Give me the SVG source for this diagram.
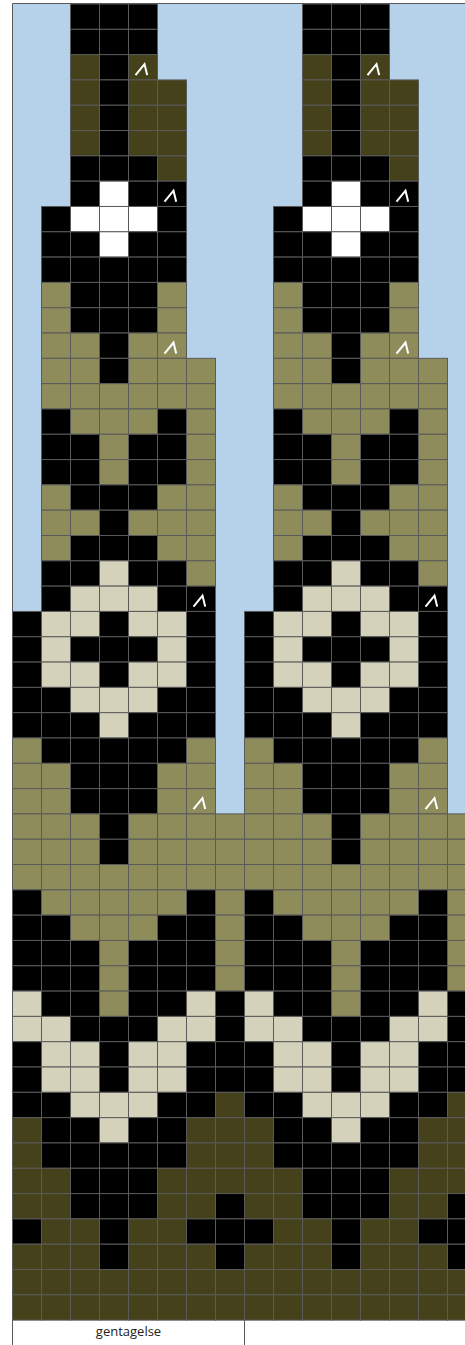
<svg xmlns="http://www.w3.org/2000/svg" xmlns:xlink="http://www.w3.org/1999/xlink" width="465" height="1345" viewBox="0 0 465 1345">
<style>
.k{fill:#000}.o{fill:#45421b}.h{fill:#8f8c5b}.l{fill:#d5d2bc}.w{fill:#fff}
.cell{stroke:#5a5a5a;stroke-width:1}
.dec{fill:none;stroke:#fff;stroke-width:2;stroke-linejoin:miter}
.frame{stroke:#5a5a5a;stroke-width:1;fill:none}
.lbl{font-family:"Open Sans","Liberation Sans",Arial,sans-serif;font-size:13px;fill:#222;text-anchor:middle}
</style>
<defs>
<rect id="c" class="cell" width="29" height="25.31"/>
<path id="d" class="dec" d="M7,20.5 L16,9.5 L18.7,20.5"/>
<g id="rep">
<g transform="translate(0,4)"><use href="#c" x="70.5" class="k"/><use href="#c" x="99.5" class="k"/><use href="#c" x="128.5" class="k"/></g>
<g transform="translate(0,29.31)"><use href="#c" x="70.5" class="k"/><use href="#c" x="99.5" class="k"/><use href="#c" x="128.5" class="k"/></g>
<g transform="translate(0,54.62)"><use href="#c" x="70.5" class="o"/><use href="#c" x="99.5" class="k"/><use href="#c" x="128.5" class="o"/><use href="#d" x="128.5"/></g>
<g transform="translate(0,79.93)"><use href="#c" x="70.5" class="o"/><use href="#c" x="99.5" class="k"/><use href="#c" x="128.5" class="o"/><use href="#c" x="157.5" class="o"/></g>
<g transform="translate(0,105.24)"><use href="#c" x="70.5" class="o"/><use href="#c" x="99.5" class="k"/><use href="#c" x="128.5" class="o"/><use href="#c" x="157.5" class="o"/></g>
<g transform="translate(0,130.55)"><use href="#c" x="70.5" class="o"/><use href="#c" x="99.5" class="k"/><use href="#c" x="128.5" class="o"/><use href="#c" x="157.5" class="o"/></g>
<g transform="translate(0,155.86)"><use href="#c" x="70.5" class="k"/><use href="#c" x="99.5" class="k"/><use href="#c" x="128.5" class="k"/><use href="#c" x="157.5" class="o"/></g>
<g transform="translate(0,181.17)"><use href="#c" x="70.5" class="k"/><use href="#c" x="99.5" class="w"/><use href="#c" x="128.5" class="k"/><use href="#c" x="157.5" class="k"/><use href="#d" x="157.5"/></g>
<g transform="translate(0,206.48)"><use href="#c" x="41.5" class="k"/><use href="#c" x="70.5" class="w"/><use href="#c" x="99.5" class="w"/><use href="#c" x="128.5" class="w"/><use href="#c" x="157.5" class="k"/></g>
<g transform="translate(0,231.79)"><use href="#c" x="41.5" class="k"/><use href="#c" x="70.5" class="k"/><use href="#c" x="99.5" class="w"/><use href="#c" x="128.5" class="k"/><use href="#c" x="157.5" class="k"/></g>
<g transform="translate(0,257.1)"><use href="#c" x="41.5" class="k"/><use href="#c" x="70.5" class="k"/><use href="#c" x="99.5" class="k"/><use href="#c" x="128.5" class="k"/><use href="#c" x="157.5" class="k"/></g>
<g transform="translate(0,282.41)"><use href="#c" x="41.5" class="h"/><use href="#c" x="70.5" class="k"/><use href="#c" x="99.5" class="k"/><use href="#c" x="128.5" class="k"/><use href="#c" x="157.5" class="h"/></g>
<g transform="translate(0,307.72)"><use href="#c" x="41.5" class="h"/><use href="#c" x="70.5" class="k"/><use href="#c" x="99.5" class="k"/><use href="#c" x="128.5" class="k"/><use href="#c" x="157.5" class="h"/></g>
<g transform="translate(0,333.03)"><use href="#c" x="41.5" class="h"/><use href="#c" x="70.5" class="h"/><use href="#c" x="99.5" class="k"/><use href="#c" x="128.5" class="h"/><use href="#c" x="157.5" class="h"/><use href="#d" x="157.5"/></g>
<g transform="translate(0,358.34)"><use href="#c" x="41.5" class="h"/><use href="#c" x="70.5" class="h"/><use href="#c" x="99.5" class="k"/><use href="#c" x="128.5" class="h"/><use href="#c" x="157.5" class="h"/><use href="#c" x="186.5" class="h"/></g>
<g transform="translate(0,383.65)"><use href="#c" x="41.5" class="h"/><use href="#c" x="70.5" class="h"/><use href="#c" x="99.5" class="h"/><use href="#c" x="128.5" class="h"/><use href="#c" x="157.5" class="h"/><use href="#c" x="186.5" class="h"/></g>
<g transform="translate(0,408.96)"><use href="#c" x="41.5" class="k"/><use href="#c" x="70.5" class="h"/><use href="#c" x="99.5" class="h"/><use href="#c" x="128.5" class="h"/><use href="#c" x="157.5" class="k"/><use href="#c" x="186.5" class="h"/></g>
<g transform="translate(0,434.27)"><use href="#c" x="41.5" class="k"/><use href="#c" x="70.5" class="k"/><use href="#c" x="99.5" class="h"/><use href="#c" x="128.5" class="k"/><use href="#c" x="157.5" class="k"/><use href="#c" x="186.5" class="h"/></g>
<g transform="translate(0,459.58)"><use href="#c" x="41.5" class="k"/><use href="#c" x="70.5" class="k"/><use href="#c" x="99.5" class="h"/><use href="#c" x="128.5" class="k"/><use href="#c" x="157.5" class="k"/><use href="#c" x="186.5" class="h"/></g>
<g transform="translate(0,484.89)"><use href="#c" x="41.5" class="h"/><use href="#c" x="70.5" class="k"/><use href="#c" x="99.5" class="k"/><use href="#c" x="128.5" class="k"/><use href="#c" x="157.5" class="h"/><use href="#c" x="186.5" class="h"/></g>
<g transform="translate(0,510.2)"><use href="#c" x="41.5" class="h"/><use href="#c" x="70.5" class="h"/><use href="#c" x="99.5" class="k"/><use href="#c" x="128.5" class="h"/><use href="#c" x="157.5" class="h"/><use href="#c" x="186.5" class="h"/></g>
<g transform="translate(0,535.51)"><use href="#c" x="41.5" class="h"/><use href="#c" x="70.5" class="k"/><use href="#c" x="99.5" class="k"/><use href="#c" x="128.5" class="k"/><use href="#c" x="157.5" class="h"/><use href="#c" x="186.5" class="h"/></g>
<g transform="translate(0,560.82)"><use href="#c" x="41.5" class="k"/><use href="#c" x="70.5" class="k"/><use href="#c" x="99.5" class="l"/><use href="#c" x="128.5" class="k"/><use href="#c" x="157.5" class="k"/><use href="#c" x="186.5" class="h"/></g>
<g transform="translate(0,586.13)"><use href="#c" x="41.5" class="k"/><use href="#c" x="70.5" class="l"/><use href="#c" x="99.5" class="l"/><use href="#c" x="128.5" class="l"/><use href="#c" x="157.5" class="k"/><use href="#c" x="186.5" class="k"/><use href="#d" x="186.5"/></g>
<g transform="translate(0,611.44)"><use href="#c" x="12.5" class="k"/><use href="#c" x="41.5" class="l"/><use href="#c" x="70.5" class="l"/><use href="#c" x="99.5" class="k"/><use href="#c" x="128.5" class="l"/><use href="#c" x="157.5" class="l"/><use href="#c" x="186.5" class="k"/></g>
<g transform="translate(0,636.75)"><use href="#c" x="12.5" class="k"/><use href="#c" x="41.5" class="l"/><use href="#c" x="70.5" class="k"/><use href="#c" x="99.5" class="k"/><use href="#c" x="128.5" class="k"/><use href="#c" x="157.5" class="l"/><use href="#c" x="186.5" class="k"/></g>
<g transform="translate(0,662.06)"><use href="#c" x="12.5" class="k"/><use href="#c" x="41.5" class="l"/><use href="#c" x="70.5" class="l"/><use href="#c" x="99.5" class="k"/><use href="#c" x="128.5" class="l"/><use href="#c" x="157.5" class="l"/><use href="#c" x="186.5" class="k"/></g>
<g transform="translate(0,687.37)"><use href="#c" x="12.5" class="k"/><use href="#c" x="41.5" class="k"/><use href="#c" x="70.5" class="l"/><use href="#c" x="99.5" class="l"/><use href="#c" x="128.5" class="l"/><use href="#c" x="157.5" class="k"/><use href="#c" x="186.5" class="k"/></g>
<g transform="translate(0,712.68)"><use href="#c" x="12.5" class="k"/><use href="#c" x="41.5" class="k"/><use href="#c" x="70.5" class="k"/><use href="#c" x="99.5" class="l"/><use href="#c" x="128.5" class="k"/><use href="#c" x="157.5" class="k"/><use href="#c" x="186.5" class="k"/></g>
<g transform="translate(0,737.99)"><use href="#c" x="12.5" class="h"/><use href="#c" x="41.5" class="k"/><use href="#c" x="70.5" class="k"/><use href="#c" x="99.5" class="k"/><use href="#c" x="128.5" class="k"/><use href="#c" x="157.5" class="k"/><use href="#c" x="186.5" class="h"/></g>
<g transform="translate(0,763.3)"><use href="#c" x="12.5" class="h"/><use href="#c" x="41.5" class="h"/><use href="#c" x="70.5" class="k"/><use href="#c" x="99.5" class="k"/><use href="#c" x="128.5" class="k"/><use href="#c" x="157.5" class="h"/><use href="#c" x="186.5" class="h"/></g>
<g transform="translate(0,788.61)"><use href="#c" x="12.5" class="h"/><use href="#c" x="41.5" class="h"/><use href="#c" x="70.5" class="k"/><use href="#c" x="99.5" class="k"/><use href="#c" x="128.5" class="k"/><use href="#c" x="157.5" class="h"/><use href="#c" x="186.5" class="h"/><use href="#d" x="186.5"/></g>
<g transform="translate(0,813.92)"><use href="#c" x="12.5" class="h"/><use href="#c" x="41.5" class="h"/><use href="#c" x="70.5" class="h"/><use href="#c" x="99.5" class="k"/><use href="#c" x="128.5" class="h"/><use href="#c" x="157.5" class="h"/><use href="#c" x="186.5" class="h"/><use href="#c" x="215.5" class="h"/></g>
<g transform="translate(0,839.23)"><use href="#c" x="12.5" class="h"/><use href="#c" x="41.5" class="h"/><use href="#c" x="70.5" class="h"/><use href="#c" x="99.5" class="k"/><use href="#c" x="128.5" class="h"/><use href="#c" x="157.5" class="h"/><use href="#c" x="186.5" class="h"/><use href="#c" x="215.5" class="h"/></g>
<g transform="translate(0,864.54)"><use href="#c" x="12.5" class="h"/><use href="#c" x="41.5" class="h"/><use href="#c" x="70.5" class="h"/><use href="#c" x="99.5" class="h"/><use href="#c" x="128.5" class="h"/><use href="#c" x="157.5" class="h"/><use href="#c" x="186.5" class="h"/><use href="#c" x="215.5" class="h"/></g>
<g transform="translate(0,889.85)"><use href="#c" x="12.5" class="k"/><use href="#c" x="41.5" class="h"/><use href="#c" x="70.5" class="h"/><use href="#c" x="99.5" class="h"/><use href="#c" x="128.5" class="h"/><use href="#c" x="157.5" class="h"/><use href="#c" x="186.5" class="k"/><use href="#c" x="215.5" class="h"/></g>
<g transform="translate(0,915.16)"><use href="#c" x="12.5" class="k"/><use href="#c" x="41.5" class="k"/><use href="#c" x="70.5" class="h"/><use href="#c" x="99.5" class="h"/><use href="#c" x="128.5" class="h"/><use href="#c" x="157.5" class="k"/><use href="#c" x="186.5" class="k"/><use href="#c" x="215.5" class="h"/></g>
<g transform="translate(0,940.47)"><use href="#c" x="12.5" class="k"/><use href="#c" x="41.5" class="k"/><use href="#c" x="70.5" class="k"/><use href="#c" x="99.5" class="h"/><use href="#c" x="128.5" class="k"/><use href="#c" x="157.5" class="k"/><use href="#c" x="186.5" class="k"/><use href="#c" x="215.5" class="h"/></g>
<g transform="translate(0,965.78)"><use href="#c" x="12.5" class="k"/><use href="#c" x="41.5" class="k"/><use href="#c" x="70.5" class="k"/><use href="#c" x="99.5" class="h"/><use href="#c" x="128.5" class="k"/><use href="#c" x="157.5" class="k"/><use href="#c" x="186.5" class="k"/><use href="#c" x="215.5" class="h"/></g>
<g transform="translate(0,991.09)"><use href="#c" x="12.5" class="l"/><use href="#c" x="41.5" class="k"/><use href="#c" x="70.5" class="k"/><use href="#c" x="99.5" class="h"/><use href="#c" x="128.5" class="k"/><use href="#c" x="157.5" class="k"/><use href="#c" x="186.5" class="l"/><use href="#c" x="215.5" class="k"/></g>
<g transform="translate(0,1016.4)"><use href="#c" x="12.5" class="l"/><use href="#c" x="41.5" class="l"/><use href="#c" x="70.5" class="k"/><use href="#c" x="99.5" class="k"/><use href="#c" x="128.5" class="k"/><use href="#c" x="157.5" class="l"/><use href="#c" x="186.5" class="l"/><use href="#c" x="215.5" class="k"/></g>
<g transform="translate(0,1041.71)"><use href="#c" x="12.5" class="k"/><use href="#c" x="41.5" class="l"/><use href="#c" x="70.5" class="l"/><use href="#c" x="99.5" class="k"/><use href="#c" x="128.5" class="l"/><use href="#c" x="157.5" class="l"/><use href="#c" x="186.5" class="k"/><use href="#c" x="215.5" class="k"/></g>
<g transform="translate(0,1067.02)"><use href="#c" x="12.5" class="k"/><use href="#c" x="41.5" class="l"/><use href="#c" x="70.5" class="l"/><use href="#c" x="99.5" class="k"/><use href="#c" x="128.5" class="l"/><use href="#c" x="157.5" class="l"/><use href="#c" x="186.5" class="k"/><use href="#c" x="215.5" class="k"/></g>
<g transform="translate(0,1092.33)"><use href="#c" x="12.5" class="k"/><use href="#c" x="41.5" class="k"/><use href="#c" x="70.5" class="l"/><use href="#c" x="99.5" class="l"/><use href="#c" x="128.5" class="l"/><use href="#c" x="157.5" class="k"/><use href="#c" x="186.5" class="k"/><use href="#c" x="215.5" class="o"/></g>
<g transform="translate(0,1117.64)"><use href="#c" x="12.5" class="o"/><use href="#c" x="41.5" class="k"/><use href="#c" x="70.5" class="k"/><use href="#c" x="99.5" class="l"/><use href="#c" x="128.5" class="k"/><use href="#c" x="157.5" class="k"/><use href="#c" x="186.5" class="o"/><use href="#c" x="215.5" class="o"/></g>
<g transform="translate(0,1142.95)"><use href="#c" x="12.5" class="o"/><use href="#c" x="41.5" class="k"/><use href="#c" x="70.5" class="k"/><use href="#c" x="99.5" class="k"/><use href="#c" x="128.5" class="k"/><use href="#c" x="157.5" class="k"/><use href="#c" x="186.5" class="o"/><use href="#c" x="215.5" class="o"/></g>
<g transform="translate(0,1168.26)"><use href="#c" x="12.5" class="o"/><use href="#c" x="41.5" class="o"/><use href="#c" x="70.5" class="k"/><use href="#c" x="99.5" class="k"/><use href="#c" x="128.5" class="k"/><use href="#c" x="157.5" class="o"/><use href="#c" x="186.5" class="o"/><use href="#c" x="215.5" class="o"/></g>
<g transform="translate(0,1193.57)"><use href="#c" x="12.5" class="o"/><use href="#c" x="41.5" class="o"/><use href="#c" x="70.5" class="k"/><use href="#c" x="99.5" class="k"/><use href="#c" x="128.5" class="k"/><use href="#c" x="157.5" class="o"/><use href="#c" x="186.5" class="o"/><use href="#c" x="215.5" class="k"/></g>
<g transform="translate(0,1218.88)"><use href="#c" x="12.5" class="k"/><use href="#c" x="41.5" class="o"/><use href="#c" x="70.5" class="o"/><use href="#c" x="99.5" class="k"/><use href="#c" x="128.5" class="o"/><use href="#c" x="157.5" class="o"/><use href="#c" x="186.5" class="k"/><use href="#c" x="215.5" class="k"/></g>
<g transform="translate(0,1244.19)"><use href="#c" x="12.5" class="o"/><use href="#c" x="41.5" class="o"/><use href="#c" x="70.5" class="o"/><use href="#c" x="99.5" class="k"/><use href="#c" x="128.5" class="o"/><use href="#c" x="157.5" class="o"/><use href="#c" x="186.5" class="o"/><use href="#c" x="215.5" class="k"/></g>
<g transform="translate(0,1269.5)"><use href="#c" x="12.5" class="o"/><use href="#c" x="41.5" class="o"/><use href="#c" x="70.5" class="o"/><use href="#c" x="99.5" class="o"/><use href="#c" x="128.5" class="o"/><use href="#c" x="157.5" class="o"/><use href="#c" x="186.5" class="o"/><use href="#c" x="215.5" class="o"/></g>
<g transform="translate(0,1294.81)"><use href="#c" x="12.5" class="o"/><use href="#c" x="41.5" class="o"/><use href="#c" x="70.5" class="o"/><use href="#c" x="99.5" class="o"/><use href="#c" x="128.5" class="o"/><use href="#c" x="157.5" class="o"/><use href="#c" x="186.5" class="o"/><use href="#c" x="215.5" class="o"/></g>
</g>
</defs>
<rect x="0" y="0" width="465" height="1345" fill="#fff"/>
<rect id="bg" x="12.5" y="4" width="453" height="1316" fill="#b6d1ea"/>
<g id="chart">
<use href="#rep"/>
<use href="#rep" x="232"/>
</g>
<g id="frame">
<line class="frame" x1="12.5" y1="3.5" x2="465" y2="3.5"/>
<line class="frame" x1="12.5" y1="3.5" x2="12.5" y2="1345"/>
<line class="frame" x1="244.5" y1="1320" x2="244.5" y2="1345"/>
</g>
<g id="label">
<text class="lbl" x="128.5" y="1336">gentagelse</text>
</g>
</svg>
